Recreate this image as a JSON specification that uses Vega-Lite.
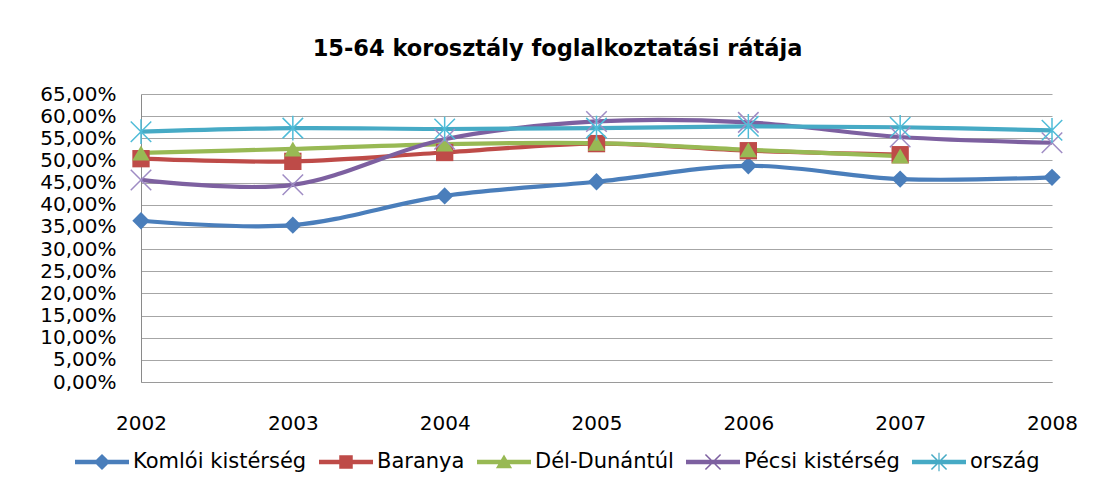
{
  "$schema": "https://vega.github.io/schema/vega-lite/v6.json",
  "width": 911,
  "height": 288,
  "autosize": {"type": "none"},
  "padding": {"left": 141, "top": 94, "right": 43, "bottom": 106},
  "background": "white",
  "title": {
    "text": "15-64 korosztály foglalkoztatási rátája",
    "font": "DejaVu Sans",
    "fontSize": 22.5,
    "fontWeight": "bold",
    "color": "#000000",
    "anchor": "middle",
    "dx": -39,
    "offset": 24
  },
  "config": {
    "view": {"stroke": null},
    "font": "DejaVu Sans"
  },
  "data": {
    "values": [
      {"year": "2002", "series": "Komlói kistérség", "rate": 36.4},
      {"year": "2003", "series": "Komlói kistérség", "rate": 35.4},
      {"year": "2004", "series": "Komlói kistérség", "rate": 42.0},
      {"year": "2005", "series": "Komlói kistérség", "rate": 45.2},
      {"year": "2006", "series": "Komlói kistérség", "rate": 48.8},
      {"year": "2007", "series": "Komlói kistérség", "rate": 45.8},
      {"year": "2008", "series": "Komlói kistérség", "rate": 46.2},
      {"year": "2002", "series": "Baranya", "rate": 50.4},
      {"year": "2003", "series": "Baranya", "rate": 49.8},
      {"year": "2004", "series": "Baranya", "rate": 51.8},
      {"year": "2005", "series": "Baranya", "rate": 53.8},
      {"year": "2006", "series": "Baranya", "rate": 52.2},
      {"year": "2007", "series": "Baranya", "rate": 51.3},
      {"year": "2002", "series": "Dél-Dunántúl", "rate": 51.7},
      {"year": "2003", "series": "Dél-Dunántúl", "rate": 52.6},
      {"year": "2004", "series": "Dél-Dunántúl", "rate": 53.7},
      {"year": "2005", "series": "Dél-Dunántúl", "rate": 53.9},
      {"year": "2006", "series": "Dél-Dunántúl", "rate": 52.4},
      {"year": "2007", "series": "Dél-Dunántúl", "rate": 51.0},
      {"year": "2002", "series": "Pécsi kistérség", "rate": 45.6},
      {"year": "2003", "series": "Pécsi kistérség", "rate": 44.5},
      {"year": "2004", "series": "Pécsi kistérség", "rate": 54.8},
      {"year": "2005", "series": "Pécsi kistérség", "rate": 58.8},
      {"year": "2006", "series": "Pécsi kistérség", "rate": 58.6},
      {"year": "2007", "series": "Pécsi kistérség", "rate": 55.3},
      {"year": "2008", "series": "Pécsi kistérség", "rate": 54.0},
      {"year": "2002", "series": "ország", "rate": 56.5},
      {"year": "2003", "series": "ország", "rate": 57.3},
      {"year": "2004", "series": "ország", "rate": 57.1},
      {"year": "2005", "series": "ország", "rate": 57.3},
      {"year": "2006", "series": "ország", "rate": 57.7},
      {"year": "2007", "series": "ország", "rate": 57.5},
      {"year": "2008", "series": "ország", "rate": 56.8}
    ]
  },
  "encoding": {
    "x": {
      "field": "year",
      "type": "ordinal",
      "scale": {"type": "point", "padding": 0},
      "axis": {
        "title": null,
        "labelAngle": 0,
        "labelFont": "DejaVu Sans",
        "labelFontSize": 20,
        "labelColor": "#000000",
        "ticks": false,
        "labelPadding": 31,
        "domainColor": "#9a9a9a",
        "grid": false
      }
    },
    "y": {
      "field": "rate",
      "type": "quantitative",
      "scale": {"domain": [0, 65], "nice": false, "zero": true},
      "axis": {
        "title": null,
        "values": [0, 5, 10, 15, 20, 25, 30, 35, 40, 45, 50, 55, 60, 65],
        "labelExpr": "replace(format(datum.value, '.2f'), '.', ',') + '%'",
        "labelFont": "DejaVu Sans",
        "labelFontSize": 20,
        "labelColor": "#000000",
        "labelOverlap": false,
        "labelFlush": false,
        "ticks": false,
        "labelPadding": 25,
        "domainColor": "#8a8a8a",
        "gridColor": "#a6a6a6",
        "gridWidth": 1.2
      }
    }
  },
  "layer": [
    {
      "mark": {"type": "line", "interpolate": "cardinal", "strokeWidth": 4.2},
      "encoding": {
        "color": {
          "field": "series",
          "type": "nominal",
          "sort": null,
          "scale": {
            "domain": ["Komlói kistérség", "Baranya", "Dél-Dunántúl", "Pécsi kistérség", "ország"],
            "range": ["#4a7ebb", "#be4b48", "#98b954", "#7d60a0", "#46aac5"]
          },
          "legend": {
            "orient": "none",
            "direction": "horizontal",
            "columns": 5,
            "legendX": -66,
            "legendY": 341,
            "title": null,
            "padding": 0,
            "labelFont": "DejaVu Sans",
            "labelFontSize": 21,
            "labelColor": "#000000",
            "labelLimit": 400,
            "labelOffset": 4,
            "columnPadding": 12,
            "symbolSize": 2916,
            "symbolType": "square",
            "encode": {
              "symbols": {
                "update": {
                  "shape": {"signal": "datum.value === 'Komlói kistérség' ? 'M-1,-0.08H1V0.08H-1ZM0,-0.3L0.3,0L0,0.3L-0.3,0Z' : datum.value === 'Baranya' ? 'M-1,-0.08H1V0.08H-1ZM-0.25,-0.25H0.25V0.25H-0.25Z' : datum.value === 'Dél-Dunántúl' ? 'M-1,-0.08H1V0.08H-1ZM0,-0.28L0.3,0.23H-0.3Z' : datum.value === 'Pécsi kistérség' ? 'M-1,-0.08H1V0.08H-1ZM-0.3,-0.26L-0.26,-0.3L0.3,0.26L0.26,0.3ZM0.26,-0.3L0.3,-0.26L-0.26,0.3L-0.3,0.26Z' : 'M-1,-0.08H1V0.08H-1ZM-0.3,-0.26L-0.26,-0.3L0.3,0.26L0.26,0.3ZM0.26,-0.3L0.3,-0.26L-0.26,0.3L-0.3,0.26ZM-0.022,-0.34H0.022V0.34H-0.022Z'"},
                  "fill": {"scale": "color", "field": "value"},
                  "stroke": {"value": "transparent"},
                  "strokeWidth": {"value": 0},
                  "opacity": {"value": 1}
                }
              }
            }
          }
        }
      }
    },
    {
      "transform": [{"filter": "datum.series === 'Komlói kistérség' || datum.series === 'Baranya' || datum.series === 'Dél-Dunántúl'"}],
      "mark": {"type": "point", "filled": true, "opacity": 1},
      "encoding": {
        "color": {"field": "series", "type": "nominal", "legend": null},
        "shape": {
          "field": "series",
          "type": "nominal",
          "scale": {
            "domain": ["Komlói kistérség", "Baranya", "Dél-Dunántúl"],
            "range": ["diamond", "square", "triangle-up"]
          },
          "legend": null
        },
        "size": {
          "field": "series",
          "type": "nominal",
          "scale": {
            "domain": ["Komlói kistérség", "Baranya", "Dél-Dunántúl"],
            "range": [300, 300, 340]
          },
          "legend": null
        }
      }
    },
    {
      "transform": [{"filter": "datum.series === 'Pécsi kistérség' || datum.series === 'ország'"}],
      "mark": {"type": "point", "filled": false, "strokeWidth": 1.5, "opacity": 1, "size": 420},
      "encoding": {
        "shape": {
          "field": "series",
          "type": "nominal",
          "scale": {
            "domain": ["Pécsi kistérség", "ország"],
            "range": ["M-1,-1L1,1M-1,1L1,-1", "M-1,-1L1,1M-1,1L1,-1M0,-1.2L0,1.2"]
          },
          "legend": null
        },
        "stroke": {
          "field": "series",
          "type": "nominal",
          "scale": {
            "domain": ["Pécsi kistérség", "ország"],
            "range": ["#9f8cc4", "#4fbcd8"]
          },
          "legend": null
        }
      }
    }
  ],
  "resolve": {"scale": {"shape": "independent", "size": "independent", "stroke": "independent"}}
}
